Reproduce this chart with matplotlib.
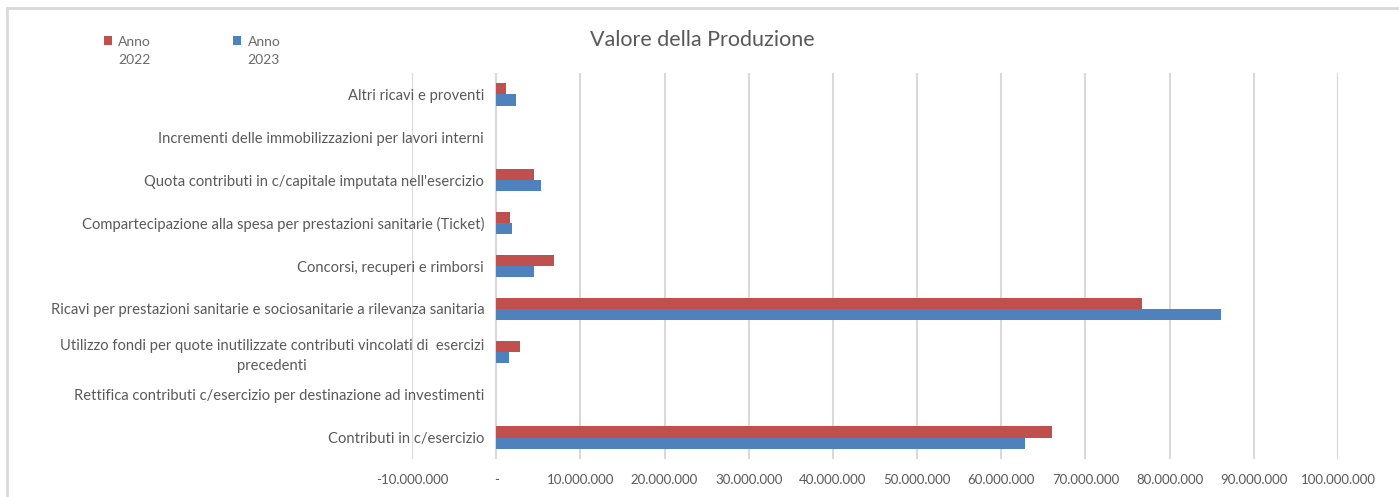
import matplotlib
matplotlib.use("Agg")
import matplotlib.pyplot as plt
import numpy as np
from matplotlib.ticker import FuncFormatter

categories = [
    "Contributi in c/esercizio",
    "Rettifica contributi c/esercizio per destinazione ad investimenti",
    "Utilizzo fondi per quote inutilizzate contributi vincolati di  esercizi\nprecedenti",
    "Ricavi per prestazioni sanitarie e sociosanitarie a rilevanza sanitaria",
    "Concorsi, recuperi e rimborsi",
    "Compartecipazione alla spesa per prestazioni sanitarie (Ticket)",
    "Quota contributi in c/capitale imputata nell'esercizio",
    "Incrementi delle immobilizzazioni per lavori interni",
    "Altri ricavi e proventi",
]
anno_2022 = [66.0e6, 0, 2.85e6, 76.7e6, 6.9e6, 1.7e6, 4.5e6, 0, 1.2e6]
anno_2023 = [62.8e6, 0, 1.55e6, 86.1e6, 4.5e6, 1.9e6, 5.3e6, 0, 2.4e6]
x_ticks = [-10e6, 0, 10e6, 20e6, 30e6, 40e6, 50e6, 60e6, 70e6, 80e6, 90e6, 100e6]

RED = "#C0504D"
BLUE = "#4F81BD"
TXT = "#595959"
GRID = "#D9D9D9"

plt.rcParams['font.family'] = ['Lato', 'DejaVu Sans']

fig = plt.figure(figsize=(13.99, 4.97), dpi=100)
ax = fig.add_axes([412/1399, 1 - 459/497, (1338-412)/1399, (459-73)/497])

y = np.arange(len(categories))
h = 0.26
ax.barh(y + h/2, anno_2022, height=h, color=RED, label="Anno\n2022", zorder=3)
ax.barh(y - h/2, anno_2023, height=h, color=BLUE, label="Anno\n2023", zorder=3)

ax.set_xlim(-10e6, 100e6)
ax.set_ylim(-0.5, len(categories) - 0.5)
ax.set_xticks(x_ticks)

def fmt(v, pos):
    if abs(v) < 1:
        return "-"
    s = f"{abs(v):,.0f}".replace(",", ".")
    return ("-" if v < 0 else "") + s

ax.xaxis.set_major_formatter(FuncFormatter(fmt))
ax.grid(axis='x', color=GRID, linewidth=1.5, zorder=0)
ax.axvline(0, color=GRID, linewidth=1.5, zorder=1)
for s in ax.spines.values():
    s.set_visible(False)

ax.set_yticks(y)
ax.set_yticklabels(categories, multialignment='center', linespacing=1.55)
ax.tick_params(axis='y', length=0, pad=-52, labelsize=10.6, labelcolor=TXT)
ax.tick_params(axis='x', length=0, pad=11, labelsize=9.5, labelcolor=TXT)
for lbl in ax.get_yticklabels():
    lbl.set_zorder(5)

fig.text(702/1399, 1 - 40/497, "Valore della Produzione", ha='center', va='center',
         fontsize=15.5, color=TXT)

leg = fig.legend(loc='upper left', bbox_to_anchor=(91/1399, 1 - 24/497), ncol=2,
                 frameon=False, fontsize=10, labelcolor="#6A6A6A", handlelength=0.6,
                 handleheight=0.6, handletextpad=0.45, columnspacing=5.9)
for t in leg.get_texts():
    t.set_linespacing(1.6)
for p in leg.get_patches():
    p.set_y(p.get_y() + 8)

# chart frame (top and left edges visible)
fig.add_artist(plt.Line2D([7/1399, 1], [1 - 8/497, 1 - 8/497], transform=fig.transFigure,
                          color=GRID, linewidth=2))
fig.add_artist(plt.Line2D([7/1399, 7/1399], [0, 1 - 8/497], transform=fig.transFigure,
                          color=GRID, linewidth=2))

fig.savefig("out.png", dpi=100)
